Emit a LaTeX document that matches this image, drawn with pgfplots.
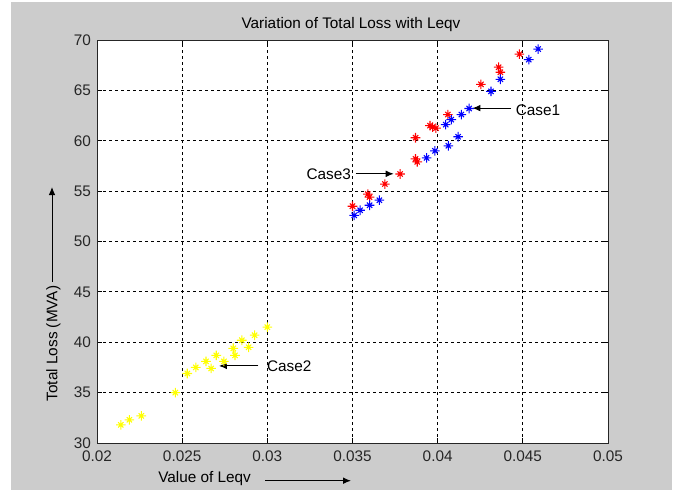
\documentclass[border=0pt]{standalone}
\usepackage{fontspec}
\setmainfont{Liberation Sans}
\usepackage{pgfplots}
\pgfplotsset{compat=1.18}
\usetikzlibrary{arrows.meta}
\definecolor{figgray}{RGB}{204,204,204}
\definecolor{myyellow}{RGB}{255,255,0}
\definecolor{myred}{RGB}{255,0,0}
\definecolor{myblue}{RGB}{0,0,255}

% Matlab-like '*' marker: a plus with shorter diagonals
\pgfdeclareplotmark{mstar}{%
  \pgfpathmoveto{\pgfqpoint{-\pgfplotmarksize}{0pt}}%
  \pgfpathlineto{\pgfqpoint{\pgfplotmarksize}{0pt}}%
  \pgfpathmoveto{\pgfqpoint{0pt}{-\pgfplotmarksize}}%
  \pgfpathlineto{\pgfqpoint{0pt}{\pgfplotmarksize}}%
  \pgfpathmoveto{\pgfqpoint{-0.55\pgfplotmarksize}{-0.55\pgfplotmarksize}}%
  \pgfpathlineto{\pgfqpoint{0.55\pgfplotmarksize}{0.55\pgfplotmarksize}}%
  \pgfpathmoveto{\pgfqpoint{-0.55\pgfplotmarksize}{0.55\pgfplotmarksize}}%
  \pgfpathlineto{\pgfqpoint{0.55\pgfplotmarksize}{-0.55\pgfplotmarksize}}%
  \pgfusepathqstroke
}

\newcommand{\lblfont}{\fontsize{11.5}{13}\selectfont}

\begin{document}
\begin{tikzpicture}[x=0.75pt,y=0.75pt]
\fill[white] (0,0) rectangle (675,494);
\fill[figgray] (11,4) rectangle (672,492);

\begin{axis}[
    at={(72.75pt,38.25pt)}, anchor=south west,
    scale only axis, width=383.25pt, height=302.25pt,
    xmin=0.02, xmax=0.05, ymin=30, ymax=70,
    xtick={0.02,0.025,0.03,0.035,0.04,0.045,0.05},
    xticklabels={0.02,0.025,0.03,0.035,0.04,0.045,0.05},
    scaled x ticks=false,
    ytick={30,35,40,45,50,55,60,65,70},
    tick align=inside, major tick length=3.75pt,
    grid=major,
    grid style={black, line width=0.75pt, dash pattern=on 2.25pt off 2.25pt},
    axis line style={line width=0.75pt, black!85},
    tick style={black, line width=0.75pt},
    ticklabel style={font=\lblfont, text=black!85},
    xticklabel style={yshift=-2.5pt},
    yticklabel style={xshift=-1pt},
    /pgf/number format/assume math mode=true,
    axis background/.style={fill=white},
    mark size=3.6pt,
]
\addplot[only marks, mark=mstar, myyellow, line width=0.8pt] coordinates {
    (0.0214,31.8) (0.0219,32.3) (0.0226,32.7) (0.0246,35.0)
    (0.0253,36.9) (0.0258,37.5) (0.0264,38.1) (0.0267,37.4)
    (0.0270,38.7) (0.02745,38.1) (0.0280,39.4) (0.0281,38.7)
    (0.0285,40.2) (0.0289,39.5) (0.02925,40.7) (0.0300,41.5)
};
\addplot[only marks, mark=mstar, myred, line width=0.8pt] coordinates {
    (0.0350,53.5) (0.0359,54.7) (0.0360,54.4) (0.0369,55.7)
    (0.0378,56.7) (0.0387,60.3) (0.0387,58.2) (0.0388,57.9)
    (0.03955,61.5) (0.0397,61.35) (0.0399,61.25) (0.0406,62.6)
    (0.04254,65.6) (0.04358,67.3) (0.04368,66.8) (0.0448,68.6)
};
\addplot[only marks, mark=mstar, myblue, line width=0.8pt] coordinates {
    (0.0351,52.6) (0.03545,53.1) (0.0360,53.6) (0.03658,54.1)
    (0.03935,58.3) (0.03984,59.0) (0.04063,59.5) (0.0412,60.4)
    (0.04047,61.6) (0.0408,62.1) (0.04139,62.6) (0.04185,63.2)
    (0.04313,64.9) (0.04368,66.1) (0.04535,68.05) (0.0459,69.1)
};

% annotations
\draw[black, line width=0.75pt, -{Latex[length=6pt,width=5pt]}]
    (axis cs:0.04431,63.24) -- (axis cs:0.04204,63.24);
\node[anchor=west, font=\lblfont, yshift=-1.5pt] at (axis cs:0.04431,63.24) {Case1};
\draw[black, line width=0.75pt, -{Latex[length=6pt,width=5pt]}]
    (axis cs:0.03518,56.72) -- (axis cs:0.03742,56.72);
\node[anchor=east, font=\lblfont] at (axis cs:0.03518,56.72) {Case3};
\draw[black, line width=0.75pt, -{Latex[length=6pt,width=5pt]}]
    (axis cs:0.02947,37.65) -- (axis cs:0.02716,37.65);
\node[anchor=west, font=\lblfont, xshift=3pt] at (axis cs:0.02947,37.65) {Case2};
\end{axis}

% title and axis labels with their arrows
\node[anchor=base, font=\lblfont] at (351,465.7) {Variation of Total Loss with Leqv};
\node[anchor=base west, font=\lblfont, inner sep=0pt] at (158,11.3) {Value of Leqv};
\draw[black, line width=0.75pt, -{Latex[length=6pt,width=5pt]}] (265,13.3) -- (351,13.3);
\node[rotate=90, font=\lblfont] at (53.5,150.5) {Total Loss (MVA)};
\draw[black, line width=0.75pt, -{Latex[length=6pt,width=5pt]}] (52,212) -- (52,307);
\end{tikzpicture}
\end{document}
